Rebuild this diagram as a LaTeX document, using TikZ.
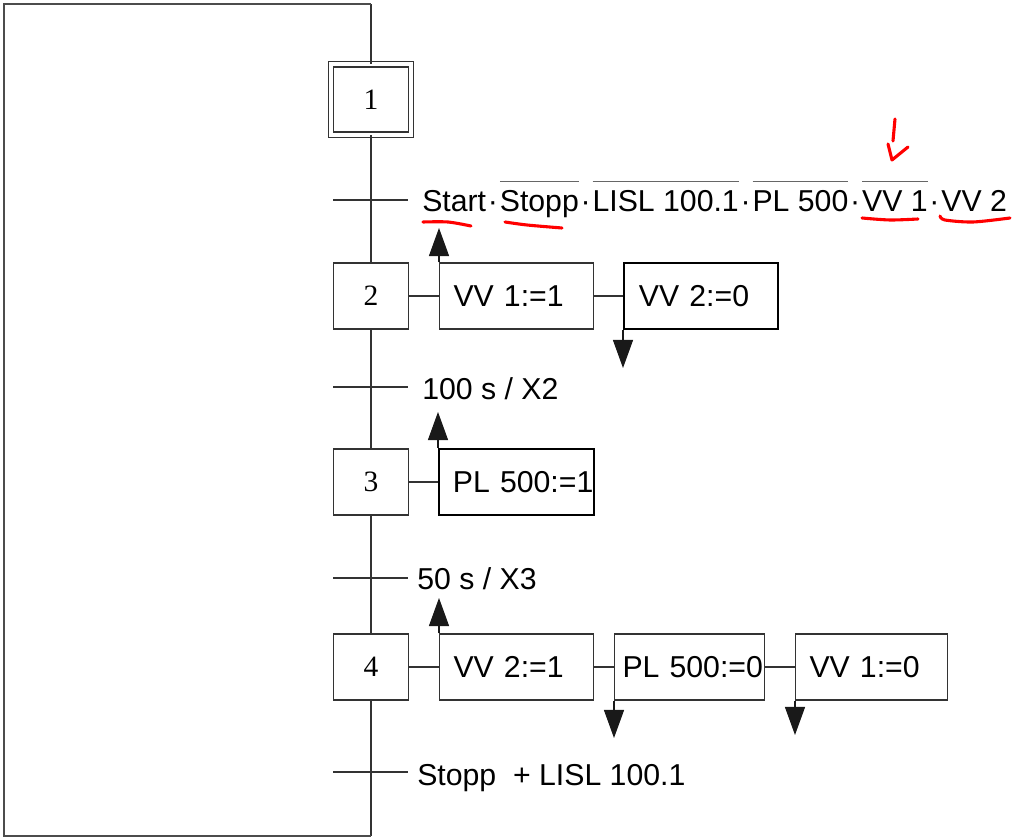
\documentclass[tikz,border=0pt]{standalone}
\usepackage{fontspec}
\setmainfont{Liberation Sans}
\newfontfamily\stepfont{Liberation Serif}
\usetikzlibrary{arrows.meta}

\newcommand{\sigfont}{\fontsize{21.5}{25}\selectfont}
\newsavebox{\nichtbox}
\newcommand{\nicht}[1]{\sbox{\nichtbox}{#1}%
  \rlap{\color{black!60}\rule[21pt]{\wd\nichtbox}{0.9pt}}\usebox{\nichtbox}}
\newcommand{\und}{\kern1.3pt·\kern1.3pt}

\begin{document}
\begin{tikzpicture} [
    x=0.025cm, y=-0.025cm,
    stepbox/.style    = { rectangle, draw=black!80, line width=0.8pt, fill=white,
                          minimum width=1.875cm, minimum height=1.65cm,
                          inner sep=0pt, font=\stepfont\fontsize{21}{25}\selectfont },
    initstep/.style   = { stepbox, double, double distance=0.1cm,
                          minimum width=2cm, minimum height=1.75cm },
    action/.style     = { rectangle, draw=black!80, line width=0.8pt,
                          anchor=west, minimum height=1.65cm,
                          inner xsep=0.35cm, align=left, font=\sigfont },
    thickaction/.style= { action, draw=black, line width=1.4pt },
    trans/.style      = { anchor=base west, inner sep=0pt, font=\sigfont },
    transbar/.style   = { draw=black!80, line width=0.8pt },
    link/.style       = { draw=black!80, line width=0.8pt },
    loopline/.style   = { draw=black!70, line width=1.4pt },
    signal/.style     = { draw=black!90, line width=0.8pt,
                          -{Triangle[length=0.7cm,width=0.5cm]} },
    correction/.style = { draw=red, line width=2.2pt, line cap=round,
                          line join=round },
  ]
  \useasboundingbox (0,0) rectangle (1015,839);

  % steps
  \node [initstep] (s1) at (371,99.5) {1};
  \node [stepbox]  (s2) at (371,296)  {2};
  \node [stepbox]  (s3) at (371,482)  {3};
  \node [stepbox]  (s4) at (371,667)  {4};

  % actions
  \node [action, text width=3.15cm] (a21) at (439,296) {VV~1:=1};
  \node [thickaction, inner xsep=0.375cm, text width=3.1cm]
        (a22) at (623,296) {VV~2:=0};
  \node [thickaction, text width=3.175cm] (a31) at (438,482) {PL~500:=1};
  \node [action, text width=3.15cm] (a41) at (439,667) {VV~2:=1};
  \node [action, inner xsep=0.2cm, text width=3.35cm]
        (a42) at (614,667) {PL~500:=0};
  \node [action, text width=3.1cm] (a43) at (795,667) {VV~1:=0};

  % transitions
  \node [trans] (t1) at (422,212)
        {Start\und\nicht{Stopp}\und\nicht{LISL 100.1}\und\nicht{PL 500}\und
         \nicht{VV 1}\und VV 2};
  \node [trans] (t2) at (422,400) {100 s / X2};
  \node [trans] (t3) at (417,590) {50 s / X3};
  \node [trans] (t4) at (417,785) {Stopp~~+ LISL 100.1};

  \foreach \y/\n in {200/1, 387/2, 578/3, 772/4} {
    \coordinate (b\n l) at (333,\y);
    \coordinate (b\n r) at (408,\y);
  }

  % loop corners and signal ends
  \coordinate (tl) at (4,4);
  \coordinate (tr) at (371,4);
  \coordinate (bl) at (4,836);
  \coordinate (br) at (371,836);
  \coordinate (e21) at (439,228);
  \coordinate (e22) at (623,368);
  \coordinate (e31) at (438,412);
  \coordinate (e41) at (439,598);
  \coordinate (e42) at (614,738);
  \coordinate (e43) at (795,735);

  % connect all nodes defined above
  \begin{scope} [every path/.style=link]
    \path (s1.north) -- (tr);
    \path (s1.south) -- (s2.north);
    \path (s2.south) -- (s3.north);
    \path (s3.south) -- (s4.north);
    \path (s4.south) -- (br);
    \path (s2.east)  -- (a21.west);
    \path (a21.east) -- (a22.west);
    \path (s3.east)  -- (a31.west);
    \path (s4.east)  -- (a41.west);
    \path (a41.east) -- (a42.west);
    \path (a42.east) -- (a43.west);
  \end{scope}
  \path [loopline] (tr) -- (tl) -- (bl) -- (br);
  \foreach \n in {1,...,4}
    \path [transbar] (b\n l) -- (b\n r);

  \begin{scope} [every path/.style=signal]
    \path (a21.north west) -- (a21.north west |- e21);
    \path (a22.south west) -- (a22.south west |- e22);
    \path (a31.north west) -- (a31.north west |- e31);
    \path (a41.north west) -- (a41.north west |- e41);
    \path (a42.south west) -- (a42.south west |- e42);
    \path (a43.south west) -- (a43.south west |- e43);
  \end{scope}

  % red marks
  \draw [correction] plot [smooth] coordinates {(423,222) (448,222) (471,226)};
  \draw [correction] plot [smooth] coordinates {(505,222) (527,225) (562,228)};
  \draw [correction] plot [smooth] coordinates {(862,218) (890,220) (918,219)};
  \draw [correction] plot [smooth] coordinates
        {(940,216) (945,220) (973,222) (1010,218)};
  \draw [correction] (895,119) -- (893,141);
  \draw [correction] (888,144) -- (892,160) -- (908,147);
\end{tikzpicture}
\end{document}
